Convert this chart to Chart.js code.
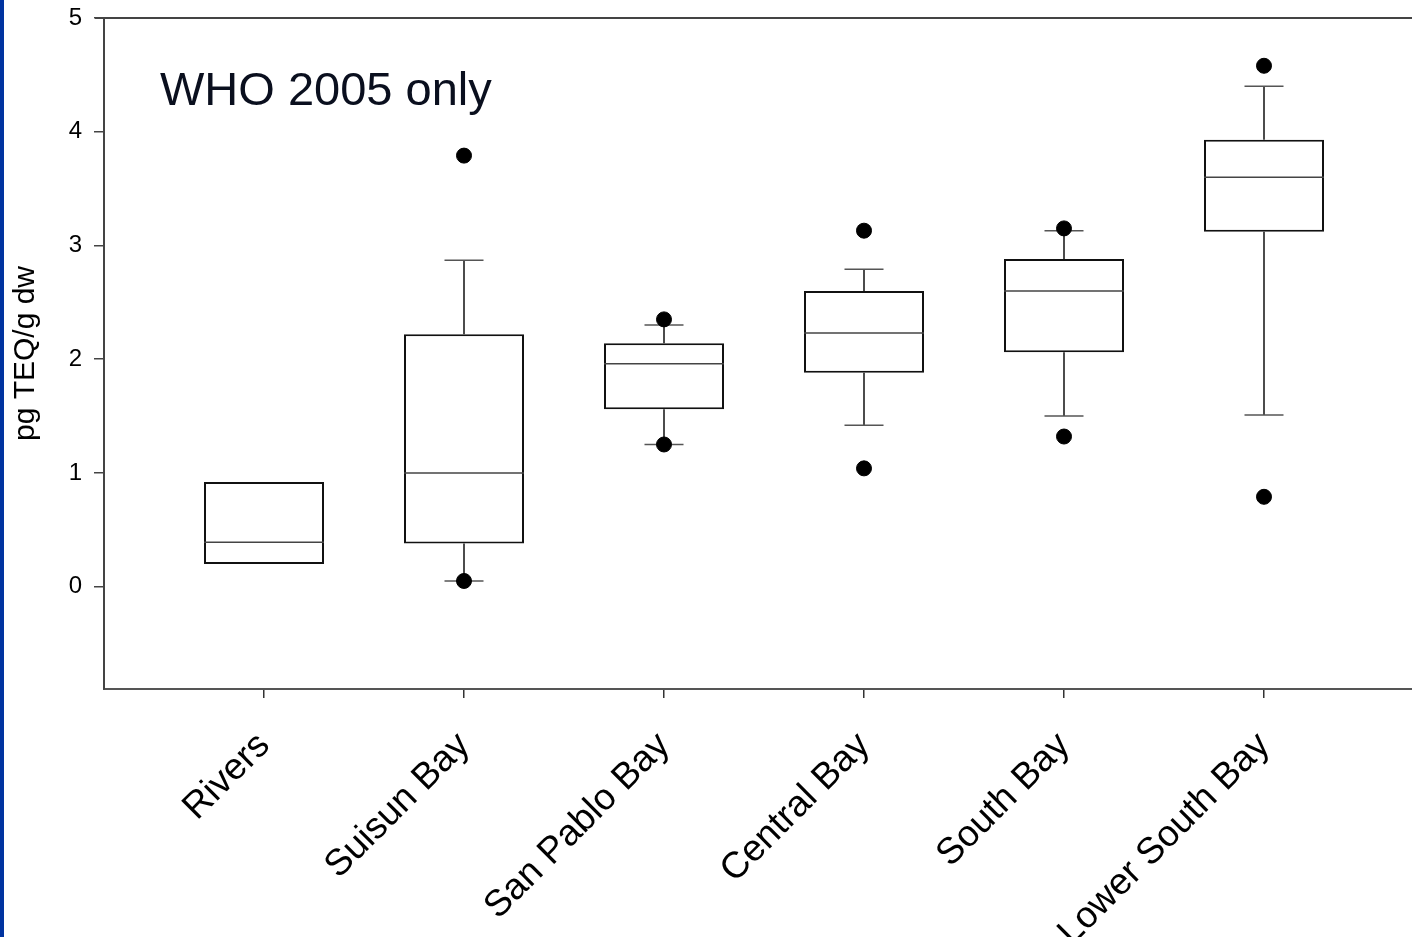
<!DOCTYPE html>
<html>
<head>
<meta charset="utf-8">
<script src="https://cdn.jsdelivr.net/npm/chart.js@4.4.1/dist/chart.umd.min.js"></script>
<style>
  html, body { margin: 0; padding: 0; background: #fff; overflow: hidden; }
  #wrap { position: relative; width: 1480px; height: 937px; }
  #edge { position: absolute; left: 0; top: 0; width: 4px; height: 937px; background: #0033a0; }
</style>
</head>
<body>
<div id="wrap">
  <canvas id="boxChart"></canvas>
  <div id="edge"></div>
</div>
<script>
// box plot data
const categories = ['Rivers', 'Suisun Bay', 'San Pablo Bay', 'Central Bay', 'South Bay', 'Lower South Bay'];
const q1Values = [0.20, 0.38, 1.56, 1.88, 2.06, 3.12];
const medianValues = [0.39, 1.00, 1.96, 2.23, 2.60, 3.60];
const q3Values = [0.92, 2.22, 2.14, 2.60, 2.88, 3.93];
const whiskerLow = [null, 0.05, 1.25, 1.42, 1.50, 1.51];
const whiskerHigh = [null, 2.87, 2.30, 2.79, 3.13, 4.40];
const outlierLow = [null, 0.05, 1.25, 1.04, 1.32, 0.79];
const outlierHigh = [null, 3.79, 2.35, 3.13, 3.15, 4.58];
const yTicks = [0, 1, 2, 3, 4, 5];
const annotationText = 'WHO 2005 only';

const FONT = "'Liberation Sans', Arial, sans-serif";

document.addEventListener('DOMContentLoaded', function() {
    initializeBoxChart();
});

function initializeBoxChart() {
    const ctx = document.getElementById('boxChart');

    const boxData = categories.map(function(c, i) {
        return { x: i, y: [q1Values[i], q3Values[i]] };
    });
    const outlierData = [];
    categories.forEach(function(c, i) {
        if (outlierLow[i] !== null) outlierData.push({ x: i, y: outlierLow[i] });
        if (outlierHigh[i] !== null) outlierData.push({ x: i, y: outlierHigh[i] });
    });

    // whiskers under the boxes, medians and frame on top
    const boxExtras = {
        id: 'boxExtras',
        beforeDatasetsDraw(chart) {
            const c = chart.ctx, xs = chart.scales.x, ys = chart.scales.y;
            const capHalf = (xs.getPixelForValue(0.0975) - xs.getPixelForValue(0));
            c.save();
            c.lineWidth = 1.5;
            categories.forEach(function(cat, i) {
                if (whiskerLow[i] === null) return;
                const px = xs.getPixelForValue(i);
                [[whiskerLow[i], q1Values[i]], [whiskerHigh[i], q3Values[i]]].forEach(function(w) {
                    const yEnd = ys.getPixelForValue(w[0]);
                    const yBox = ys.getPixelForValue(w[1]);
                    c.strokeStyle = '#111';
                    c.beginPath();
                    c.moveTo(px, yBox);
                    c.lineTo(px, yEnd);
                    c.stroke();
                    c.strokeStyle = '#555';
                    c.beginPath();
                    c.moveTo(px - capHalf, yEnd);
                    c.lineTo(px + capHalf, yEnd);
                    c.stroke();
                });
            });
            c.restore();
        },
        afterDatasetsDraw(chart) {
            const c = chart.ctx, xs = chart.scales.x, ys = chart.scales.y;
            const area = chart.chartArea;
            const half = (xs.getPixelForValue(0.3) - xs.getPixelForValue(0));
            c.save();
            c.strokeStyle = '#444';
            c.lineWidth = 1.5;
            medianValues.forEach(function(m, i) {
                const px = xs.getPixelForValue(i);
                const py = ys.getPixelForValue(m);
                c.beginPath();
                c.moveTo(px - half, py);
                c.lineTo(px + half, py);
                c.stroke();
            });
            // top frame line
            c.strokeStyle = '#444';
            c.lineWidth = 2;
            c.beginPath();
            c.moveTo(area.left - 9, area.top);
            c.lineTo(area.right, area.top);
            c.stroke();
            // annotation text
            c.fillStyle = '#0a0f1e';
            c.font = '47px ' + FONT;
            c.textBaseline = 'alphabetic';
            c.fillText(annotationText, xs.getPixelForValue(-0.52), ys.getPixelForValue(4.235));
            c.restore();
        }
    };

    const boxChart = new Chart(ctx, {
        type: 'bar',
        data: {
            datasets: [{
                type: 'scatter',
                label: 'Outliers',
                data: outlierData,
                backgroundColor: '#000',
                borderColor: '#000',
                pointRadius: 7.5,
                pointHoverRadius: 7.5,
                order: 0
            }, {
                type: 'bar',
                label: 'Boxes',
                data: boxData,
                backgroundColor: '#fff',
                borderColor: '#111',
                borderWidth: 2,
                borderSkipped: false,
                barPercentage: 0.6,
                categoryPercentage: 1.0,
                order: 1
            }]
        },
        options: {
            responsive: true,
            maintainAspectRatio: false,
            animation: false,
            layout: { padding: { top: 18, right: 10, left: 0, bottom: 0 } },
            plugins: {
                legend: { display: false },
                tooltip: { enabled: false }
            },
            scales: {
                x: {
                    type: 'linear',
                    min: -0.8,
                    max: 6.03,
                    offset: false,
                    afterBuildTicks: function(scale) {
                        scale.ticks = categories.map(function(c, i) { return { value: i }; });
                    },
                    afterFit: function(scale) {
                        scale.height = 248;
                        scale.paddingLeft = 0;
                        scale.paddingRight = 0;
                    },
                    grid: {
                        display: true,
                        offset: false,
                        drawOnChartArea: false,
                        drawTicks: true,
                        tickLength: 9,
                        color: '#333',
                        lineWidth: 1.5
                    },
                    border: { display: true, color: '#555', width: 2 },
                    ticks: {
                        autoSkip: false,
                        maxRotation: 45,
                        minRotation: 45,
                        padding: 26,
                        color: '#000',
                        font: { family: FONT, size: 37 },
                        callback: function(v) { return categories[v]; }
                    }
                },
                y: {
                    min: -0.9,
                    max: 5,
                    afterBuildTicks: function(scale) {
                        scale.ticks = yTicks.map(function(v) { return { value: v }; });
                    },
                    afterFit: function(scale) {
                        scale.width = 104;
                        scale.paddingTop = 0;
                        scale.paddingBottom = 0;
                    },
                    grid: {
                        display: true,
                        drawOnChartArea: false,
                        drawTicks: true,
                        tickLength: 10,
                        color: '#444',
                        lineWidth: 1.5
                    },
                    border: { display: true, color: '#444', width: 2 },
                    ticks: {
                        padding: 12,
                        color: '#000',
                        font: { family: FONT, size: 24 }
                    },
                    title: {
                        display: true,
                        text: 'pg TEQ/g dw',
                        color: '#000',
                        padding: { top: 8, bottom: 0 },
                        font: { family: FONT, size: 30 }
                    }
                }
            }
        },
        plugins: [boxExtras]
    });

    return boxChart;
}
</script>
</body>
</html>
